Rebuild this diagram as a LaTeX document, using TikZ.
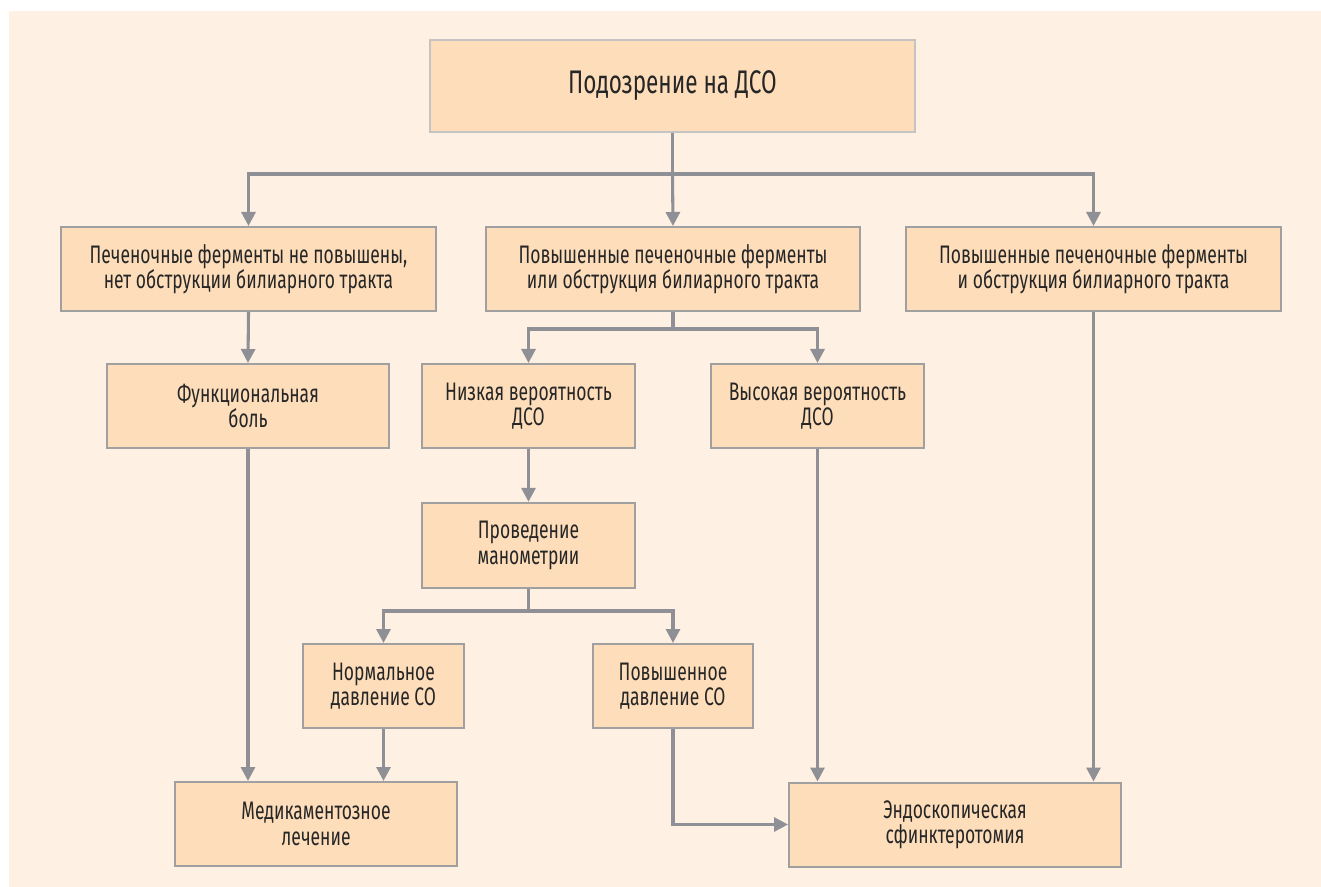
\documentclass[tikz,border=0pt]{standalone}
\usepackage{fontspec}
\setmainfont{Fira Sans}[FakeStretch=0.69]
\usetikzlibrary{arrows.meta}

\definecolor{bgpeach}{HTML}{FEF0E2}
\definecolor{boxpeach}{HTML}{FDDDBA}
\definecolor{boxline}{HTML}{A0A0A0}
\definecolor{topline}{HTML}{C4C4C4}
\definecolor{connline}{HTML}{8E9096}
\definecolor{txt}{HTML}{262626}

\tikzset{
  stepbox/.style={draw=boxline, line width=1.5pt, fill=boxpeach, text=txt,
    align=center, inner sep=0pt, font=\fontsize{19}{19}\selectfont},
  conn/.style={draw=connline, line width=2.3pt,
    -{Triangle[length=10.5pt,width=10.5pt]}},
  plainconn/.style={draw=connline, line width=2.3pt}
}

\begin{document}
\begin{tikzpicture}[x=0.75pt,y=-0.75pt]
    \useasboundingbox (0,0) rectangle (1321,887);
    \fill[bgpeach] (9,11) rectangle (1321,887);

    % top
    \node[stepbox, draw=topline, line width=1pt, minimum width=363.75pt, minimum height=69pt,
      font=\fontsize{24.5}{26}\selectfont] (susp) at (672.5,86) {Подозрение на ДСО};

    % second row
    \node[stepbox, minimum width=281pt, minimum height=63pt] (noenz) at (248.5,269)
      {Печеночные ферменты не повышены,\\нет обструкции билиарного тракта};
    \node[stepbox, minimum width=280.5pt, minimum height=63pt] (orenz) at (673,269)
      {Повышенные печеночные ферменты\\или обструкция билиарного тракта};
    \node[stepbox, minimum width=281pt, minimum height=63pt] (andenz) at (1093.5,269)
      {Повышенные печеночные ферменты\\и обструкция билиарного тракта};

    % third row
    \node[stepbox, minimum width=211.5pt, minimum height=63pt] (func) at (248,406)
      {Функциональная\\боль};
    \node[stepbox, minimum width=160pt, minimum height=63pt] (low) at (528.5,406)
      {Низкая вероятность\\ДСО};
    \node[stepbox, minimum width=160pt, minimum height=63pt] (high) at (817.5,406)
      {Высокая вероятность\\ДСО};

    % manometry
    \node[stepbox, minimum width=160pt, minimum height=64pt] (mano) at (528.5,545.5)
      {Проведение\\манометрии};
    \node[stepbox, minimum width=121pt, minimum height=63pt] (norm) at (383.5,686)
      {Нормальное\\давление СО};
    \node[stepbox, minimum width=120pt, minimum height=63pt] (raised) at (673,686)
      {Повышенное\\давление СО};

    % outcomes
    \node[stepbox, minimum width=211.5pt, minimum height=63pt] (med) at (316,824)
      {Медикаментозное\\лечение};
    \node[stepbox, minimum width=249pt, minimum height=63pt] (endo) at (955,824.5)
      {Эндоскопическая\\сфинктеротомия};

    % junctions
    \coordinate (j1) at (672.5,174);
    \coordinate (j2) at (673,329);
    \coordinate (j3) at (528.5,611);

    \draw[plainconn] (susp.south) -- (j1);
    \draw[conn] (j1) -| (noenz.north);
    \draw[conn] (j1) -- (orenz.north);
    \draw[conn] (j1) -| (andenz.north);

    \draw[plainconn] (orenz.south) -- (j2);
    \draw[conn] (j2) -| (low.north);
    \draw[conn] (j2) -| (high.north);

    \draw[conn] (noenz.south) -- (func.north);
    \draw[conn] (low.south) -- (mano.north);

    \draw[plainconn] (mano.south) -- (j3);
    \draw[conn] (j3) -| (norm.north);
    \draw[conn] (j3) -| (raised.north);

    \draw[conn] (func.south) -- (func.south |- med.north);
    \draw[conn] (norm.south) -- (norm.south |- med.north);
    \draw[conn] (raised.south) |- (endo.west);
    \draw[conn] (high.south) -- (high.south |- endo.north);
    \draw[conn] (andenz.south) -- (andenz.south |- endo.north);
\end{tikzpicture}
\end{document}
